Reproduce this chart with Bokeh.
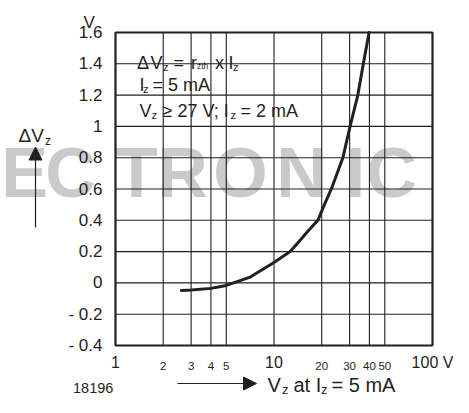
from bokeh.plotting import figure
from bokeh.models import (Range1d, FixedTicker, CustomJSTickFormatter, Label,
                          Arrow, NormalHead)
from bokeh.embed import file_html
from bokeh.resources import INLINE

# ---- data ----
vz = [2.6, 3, 4, 5, 7, 10, 12.65, 14.3, 16.1, 18.9, 20.8, 23, 27.2, 30.2, 33.8, 36.6, 39.8]
dvz = [-0.048, -0.046, -0.035, -0.016, 0.035, 0.13, 0.2, 0.262, 0.322, 0.4, 0.5,
       0.6, 0.8, 1.0, 1.2, 1.4, 1.6]
x_major = [1, 10, 100]
x_minor_labels = [2, 3, 4, 5, 20, 30, 40, 50]
x_grid = [2, 3, 4, 5, 10, 20, 30, 40, 50]
y_ticks = [-0.4, -0.2, 0, 0.2, 0.4, 0.6, 0.8, 1.0, 1.2, 1.4, 1.6]

FONT = "Liberation Sans"
INK = "#231f20"

# layout: the plot frame covers the whole canvas; the chart box sits inside it
W, H = 453, 397
FL, FR, FT, FB = 115, 432, 32, 345      # canvas pixels of the chart box
def dx(px):
    return 10 ** ((px - FL) / (FR - FL) * 2)
def dy(py):
    return 1.6 - (py - FT) / (FB - FT) * 2.0

p = figure(width=W, height=H, x_axis_type="log",
           x_range=Range1d(dx(0), dx(W)), y_range=Range1d(dy(H), dy(0)),
           output_backend="svg", toolbar_location=None, title=None,
           min_border=0)
p.background_fill_color = "white"
p.border_fill_color = "white"
p.outline_line_color = None
p.xgrid.visible = False
p.ygrid.visible = False

# axes placed at the chart box edges
p.xaxis.fixed_location = y_ticks[0]
p.yaxis.fixed_location = x_major[0]
p.xaxis.ticker = FixedTicker(ticks=x_major, minor_ticks=[])
p.xaxis.formatter = CustomJSTickFormatter(
    code="return tick >= 100 ? '100 V' : String(Math.round(tick));")
p.yaxis.ticker = FixedTicker(ticks=y_ticks, minor_ticks=[])
p.yaxis.formatter = CustomJSTickFormatter(
    code="const v = Math.round(tick*10)/10; return v < 0 ? '- ' + String(-v) : String(v);")
for ax in (p.xaxis, p.yaxis):
    ax.axis_line_color = None
    ax.major_tick_line_color = None
    ax.minor_tick_line_color = None
    ax.major_tick_out = 0
    ax.major_tick_in = 0
    ax.major_label_text_font = FONT
    ax.major_label_text_color = INK
p.xaxis.major_label_text_font_size = "16px"
p.xaxis.major_label_standoff = 8
p.yaxis.major_label_text_font_size = "17px"
p.yaxis.major_label_standoff = 13

# watermark (background)
wm_letters = [("E", 24), ("C", 70), ("T", 136), ("R", 182), ("O", 240),
              ("N", 301), ("I", 355), ("C", 391)]
for ch, px in wm_letters:
    p.add_layout(Label(x=dx(px), y=dy(172), text=ch, text_font=FONT,
                       text_font_style="bold", text_font_size="70px",
                       text_color="#cacaca", text_baseline="alphabetic",
                       text_align="center", level="image"))

# grid lines and chart box
n, m = len(x_grid), len(y_ticks)
p.segment(x0=x_grid, y0=[y_ticks[0]] * n, x1=x_grid, y1=[y_ticks[-1]] * n,
          line_color=INK, line_width=1.1)
p.segment(x0=[x_major[0]] * m, y0=y_ticks, x1=[x_major[-1]] * m, y1=y_ticks,
          line_color=INK, line_width=1.1)
p.quad(left=[x_major[0]], right=[x_major[-1]], bottom=[y_ticks[0]], top=[y_ticks[-1]],
       fill_color=None, line_color=INK, line_width=2.2)

# curve
p.line(vz, dvz, line_color=INK, line_width=3, line_cap="round", line_join="round")

# minor x tick labels
for v in x_minor_labels:
    p.add_layout(Label(x=v, y=dy(FB + 20.5), text=str(v), text_font=FONT,
                       text_font_size="11.5px", text_color=INK,
                       text_align="center", text_baseline="alphabetic"))

def txt(px, py, s, size, align="left"):
    p.add_layout(Label(x=dx(px), y=dy(py), text=s, text_font=FONT,
                       text_font_size=f"{size}px", text_color=INK,
                       text_align=align, text_baseline="alphabetic"))

# text block inside plot
txt(136.5, 62, "Δ", 18); txt(150, 62, "V", 18); txt(162.5, 66.5, "z", 11)
txt(173, 62, "=", 18); txt(190.5, 62, "r", 18); txt(196.5, 65, "zth", 8.5)
txt(214.5, 62, "x", 18); txt(228, 62, "I", 18); txt(232.5, 66.5, "z", 11)
txt(139, 84, "I", 18); txt(142.5, 88.5, "z", 11); txt(152, 84, "= 5 mA", 18)
txt(139, 110, "V", 18); txt(151, 114.5, "z", 11); txt(162, 110, "≥ 27 V; I", 18)
txt(230, 114.5, "z", 11); txt(240, 110, "= 2 mA", 18)

# y axis title & unit
txt(83, 21.7, "V", 17)
txt(18, 135, "ΔV", 19); txt(44.5, 140.5, "z", 12)
p.add_layout(Arrow(x_start=dx(35), y_start=dy(227), x_end=dx(35), y_end=dy(146.5),
                   line_color=INK, line_width=1.2,
                   end=NormalHead(size=13, fill_color=INK, line_color=INK)))

# x axis title
TB = 384
txt(267, TB, "V", 20); txt(281.5, TB + 4.5, "z", 13)
txt(293, TB, "at I", 20); txt(320.5, TB + 4.5, "z", 13)
txt(331, TB, "= 5 mA", 20)
p.add_layout(Arrow(x_start=dx(177), y_start=dy(TB - 1), x_end=dx(256), y_end=dy(TB - 1),
                   line_color=INK, line_width=1.2,
                   end=NormalHead(size=13, fill_color=INK, line_color=INK)))
txt(72.5, TB + 3, "18196", 14.5)

open("out.html", "w").write(file_html(p, INLINE))
